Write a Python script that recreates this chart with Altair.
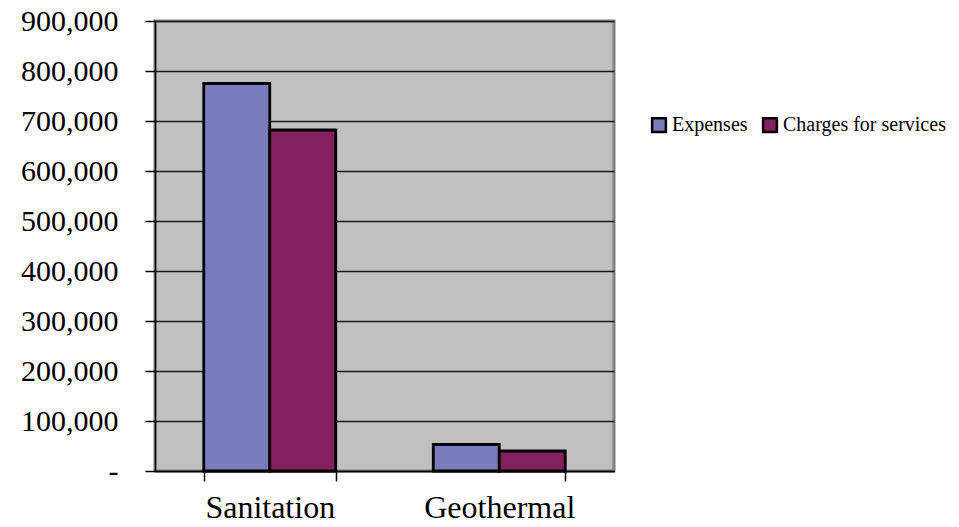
import altair as alt
import pandas as pd

categories = ["Sanitation", "Geothermal"]
series = ["Expenses", "Charges for services"]
expenses = [775000, 53000]
charges = [682000, 40000]
y_ticks = [0, 100000, 200000, 300000, 400000, 500000, 600000, 700000, 800000, 900000]
colors = ["#7A7BBD", "#822060"]

rows = []
for i, c in enumerate(categories):
    rows.append({"category": c, "series": series[0], "value": expenses[i]})
    rows.append({"category": c, "series": series[1], "value": charges[i]})
df = pd.DataFrame(rows)

FONT = "Liberation Serif"

chart = alt.Chart(df).mark_bar(stroke="black", strokeWidth=2.8).encode(
    x=alt.X(
        "category:N",
        sort=categories,
        title=None,
        scale=alt.Scale(paddingInner=0.425, paddingOuter=0.2125),
        axis=alt.Axis(
            labelAngle=0,
            tickBand="extent",
            tickSize=10,
            tickColor="black",
            tickWidth=1.5,
            domainColor="black",
            domainWidth=1.5,
            labelFont=FONT,
            labelFontSize=32,
            labelColor="black",
            labelPadding=11,
            grid=False,
        ),
    ),
    xOffset=alt.XOffset("series:N", sort=series),
    y=alt.Y(
        "value:Q",
        title=None,
        scale=alt.Scale(domain=[0, 900000], nice=False),
        axis=alt.Axis(
            values=y_ticks,
            labelExpr="datum.value == 0 ? '-' : format(datum.value, ',')",
            tickSize=10,
            tickColor="black",
            tickWidth=1.5,
            domainColor="black",
            domainWidth=1.5,
            labelFont=FONT,
            labelFontSize=30,
            labelColor="black",
            labelPadding=27,
            grid=True,
            gridColor="#1a1a1a",
            gridWidth=1.3,
        ),
    ),
    color=alt.Color(
        "series:N",
        sort=series,
        title=None,
        scale=alt.Scale(domain=series, range=colors),
        legend=alt.Legend(
            orient="none",
            legendX=494,
            legendY=94,
            direction="horizontal",
            symbolType="square",
            symbolSize=190,
            symbolStrokeColor="black",
            symbolStrokeWidth=2.5,
            symbolOpacity=1,
            labelFont=FONT,
            labelFontSize=20,
            labelColor="black",
            labelOffset=3,
            labelLimit=400,
            columnPadding=10,
            padding=0,
        ),
    ),
).properties(
    width=459,
    height=450,
    padding={"left": 147, "top": 13, "right": 337, "bottom": 48},
    autosize=alt.AutoSizeParams(type="none"),
).configure(
    background="white",
).configure_view(
    fill="#C0C0C0",
    stroke="#808080",
    strokeWidth=3,
)

chart.save("out.html", embed_options={"renderer": "svg", "actions": False})
